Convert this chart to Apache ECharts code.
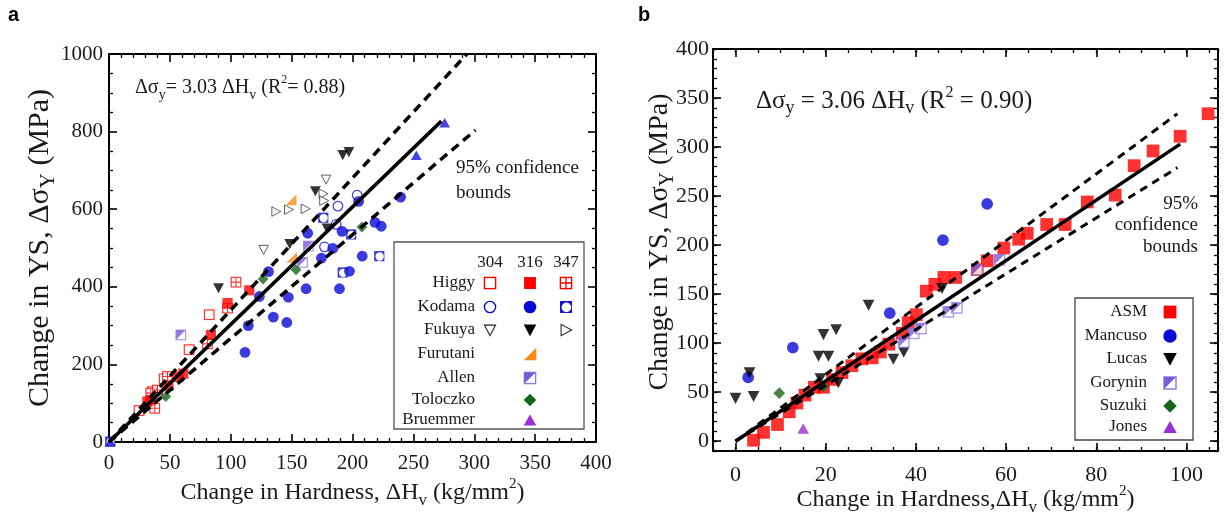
<!DOCTYPE html>
<html>
<head>
<meta charset="utf-8">
<script src="https://cdn.jsdelivr.net/npm/echarts@6/dist/echarts.min.js"></script>
<style>
html,body{margin:0;padding:0;background:#fff}
#chart{width:1225px;height:521px}
</style>
</head>
<body>
<div id="chart"></div>
<script>
// ---------- Panel a: irradiated austenitic stainless steels (ΔHv, Δσy) ----------
const higgy304 = [[24.7,81],[35.7,130],[45.3,163],[65.8,238],[82.3,328]];
const higgy316 = [[31.5,104],[34,108],[48.8,145],[57,168],[61,176],[83.7,276],[97.4,358],[115.2,391]];
const higgy347 = [[37.6,87],[34.3,126],[39.8,134],[48,169],[80.9,253],[97.4,345],[104.3,412]];
const kodama304 = [[188,608],[203.8,636],[177,503],[186.6,561]];
const kodama316 = [[111.7,231],[114.4,300],[123.5,375],[131,439],[135,322],[146,308],[147.3,373],
  [161.9,395],[189.3,395],[174.5,474],[183.8,499],[163.2,538],[197.5,440],[205,620],[239.5,631],
  [191.4,543],[218.5,566],[223.6,556],[208,479]];
const kodama347 = [[1,1],[176,578],[198.9,535],[222,479],[192,437]];
const fukuya304 = [[178.3,677],[127,496]];
const fukuya316 = [[90,397],[148.5,511],[169.5,647],[179,551],[192,740],[197,748]];
const fukuya347 = [[137.2,594],[147.6,599],[161.3,601],[176,640],[176.5,622]];
const furutani316 = [[149.5,624],[150,476]];
const allen316 = [[59,276],[163.8,505],[159,463]];
const toloczko316 = [[46.6,117],[126.5,420],[153.6,444],[207.7,554]];
const bruemmer316 = [[1,1],[252.4,739],[275.7,823]];
const fitA = [[0,0],[273,827]];
const upperA = [[0,0],[294,1000]];
const lowerA = [[0,0],[301,804]];

// ---------- Panel b ----------
const asm = [[4,1],[6.2,9],[9.3,17],[11.9,30],[13.6,39],[15.4,47],[17.5,55],[19.5,55],[21.5,63],
  [23.6,70],[25.8,77],[28,84],[30.3,85],[32.1,91],[34,99],[37,110],[38.3,121],[40.1,129],[42.3,153],
  [44.2,160],[46.2,167],[48.8,167],[53.6,175],[55.8,184],[59.5,197],[62.8,206],[64.7,212],[69,221],
  [73.1,221],[78,244],[84.2,251],[88.4,281],[92.6,296],[98.6,311],[104.8,334]];
const mancuso = [[2.8,65],[12.7,95.5],[34.2,130.6],[46,205],[55.8,242]];
const lucas = [[0,44],[3.1,70],[4,46],[18.4,87],[20.6,87],[19.5,109],[22.3,114],[29.5,139],
  [18.8,64],[22.8,60],[35,84],[37.3,91],[45.8,156]];
const gorynin = [[37.3,101],[39.5,110],[41.1,115],[47.2,132],[49.1,136],[53.6,175],[58.5,185]];
const suzuki = [[9.7,49],[19.5,56]];
const jones = [[15,13]];
const fitB = [[0,0],[98.6,303]];
const upperB = [[0,0],[98,334]];
const lowerB = [[0,0],[98,279]];

// tick values
const xMajorB = [0,20,40,60,80,100];
const yMajorB = [0,50,100,150,200,250,300,350,400];

// legend rows
const legendARows = ['Higgy','Kodama','Fukuya','Furutani','Allen','Toloczko','Bruemmer'];
const legendAHeads = ['304','316','347'];
const legendBRows = ['ASM','Mancuso','Lucas','Gorynin','Suzuki','Jones'];

// ---------- marker glyphs ----------
function svg(inner){
  return 'data:image/svg+xml;charset=utf-8,' + encodeURIComponent(
    '<svg xmlns="http://www.w3.org/2000/svg" width="40" height="40" viewBox="0 0 20 20">' + inner + '</svg>');
}
const RED='#ff0000', BLUE='#0a0ad8', ORANGE='#ff8a1c', GREEN='#1a641a', VIOLET='#9a2fd8';
const PEDGE='#8f7ce6', PFILL='#7a5cd8';
const G = {
  sqOpen: c => svg(`<rect x="2" y="2" width="16" height="16" fill="#fff" stroke="${c}" stroke-width="2"/>`),
  sqFill: c => svg(`<rect x="1.5" y="1.5" width="17" height="17" fill="${c}"/>`),
  sqGrid: c => svg(`<rect x="2" y="2" width="16" height="16" fill="#fff" stroke="${c}" stroke-width="2"/><path d="M10 2V18M2 10H18" stroke="${c}" stroke-width="1.8"/>`),
  circOpen: c => svg(`<circle cx="10" cy="10" r="8" fill="#fff" stroke="${c}" stroke-width="2"/>`),
  circFill: c => svg(`<circle cx="10" cy="10" r="9" fill="${c}"/>`),
  sqCirc: c => svg(`<rect x="1.5" y="1.5" width="17" height="17" fill="${c}"/><circle cx="10.6" cy="10.6" r="6.9" fill="#fff"/>`),
  triDownOpen: c => svg(`<path d="M2 3H18L10 18Z" fill="#fff" stroke="${c}" stroke-width="1.5"/>`),
  triDownFill: c => svg(`<path d="M1 2H19L10 19Z" fill="${c}"/>`),
  triRightOpen: c => svg(`<path d="M3 2V18L18 10Z" fill="#fff" stroke="${c}" stroke-width="1.5"/>`),
  wedge: c => svg(`<path d="M1 19H19V1Z" fill="${c}"/>`),
  halfSq: (e,f) => svg(`<rect x="2" y="2" width="16" height="16" fill="#fff" stroke="${e}" stroke-width="2"/><path d="M2 2H18L2 18Z" fill="${f}"/>`),
  diamond: c => svg(`<path d="M10 1L19 10L10 19L1 10Z" fill="${c}"/>`),
  triUp: c => svg(`<path d="M10 2L19 18H1Z" fill="${c}"/>`)
};

const SERIF = '"Liberation Serif","Times New Roman",serif';
const INK = '#1a1a1a';

function pts(name, data, glyph, size, panel){
  return {
    type:'scatter', name, data,
    xAxisIndex: panel ? 2 : 0, yAxisIndex: panel ? 2 : 0,
    symbol: 'image://' + glyph, symbolSize: size,
    silent:true, z:3
  };
}
function line(data, dashed, panel, w){
  return {
    type:'line', data, xAxisIndex: panel ? 2 : 0, yAxisIndex: panel ? 2 : 0,
    showSymbol:false, symbol:'none', silent:true, z:5,
    lineStyle:{color:'#000', width:w, type: dashed ? (panel ? [8,6] : [9,6]) : 'solid', cap:'butt'}
  };
}

const rich = size => ({
  t:{fontFamily:SERIF, fontSize:size, color:INK, lineHeight:size+8},
  sub:{fontFamily:SERIF, fontSize:Math.round(size*0.7), color:INK, lineHeight:Math.round(size*0.7), verticalAlign:'bottom'},
  sup:{fontFamily:SERIF, fontSize:Math.round(size*0.62), color:INK, lineHeight:Math.round(size*0.62), verticalAlign:'top'}
});

const frameLine = {show:true, onZero:false, lineStyle:{color:'#000', width:2}};
function axisBase(extra){
  return Object.assign({
    type:'value', splitLine:{show:false}, axisLine:frameLine, nameMoveOverlap:false,
    axisLabel:{show:false}, axisTick:{inside:true, length:8, lineStyle:{color:'#000', width:1.6}}
  }, extra);
}
const plain = v => String(v);
const tickFont = (size, margin) => ({show:true, fontFamily:SERIF, fontSize:size, color:INK, margin, formatter:plain});
const minorA = n => ({show:true, splitNumber:n, length:4, lineStyle:{color:'#000', width:1.3}});
const noLine = {show:false, onZero:false};

const xAxes = [
  axisBase({gridIndex:0, position:'bottom', min:0, max:400, interval:50, minorTick:minorA(5),
    axisLabel:tickFont(21, 11),
    name:'{t|Change in Hardness, ΔH}{sub|v}{t| (kg/mm}{sup|2}{t|)}', nameLocation:'middle', nameGap:35,
    nameTextStyle:{rich:rich(24)}}),
  axisBase({gridIndex:0, position:'top', min:0, max:400, interval:50, minorTick:minorA(5)}),
  axisBase({gridIndex:1, position:'bottom', min:-5, max:107,
    axisTick:{inside:true, length:8, customValues:xMajorB, lineStyle:{color:'#000', width:1.6}},
    axisLabel:Object.assign(tickFont(22, 13), {customValues:xMajorB}),
    name:'{t|Change in Hardness,ΔH}{sub|v}{t| (kg/mm}{sup|2}{t|)}', nameLocation:'middle', nameGap:33,
    nameTextStyle:{rich:rich(24)}}),
  axisBase({gridIndex:1, position:'bottom', min:-5, max:107, interval:5, axisLine:noLine,
    axisTick:{inside:true, length:4, lineStyle:{color:'#000', width:1.3}}}),
  axisBase({gridIndex:1, position:'top', min:-5, max:107,
    axisTick:{inside:true, length:8, customValues:xMajorB, lineStyle:{color:'#000', width:1.6}}}),
  axisBase({gridIndex:1, position:'top', min:-5, max:107, interval:5, axisLine:noLine,
    axisTick:{inside:true, length:4, lineStyle:{color:'#000', width:1.3}}})
];
const yAxes = [
  axisBase({gridIndex:0, position:'left', min:0, max:1000, interval:200, minorTick:minorA(4),
    axisLabel:tickFont(21, 6),
    name:'{t|Change in YS, Δσ}{sub|Y}{t| (MPa)}', nameLocation:'middle', nameGap:50,
    nameTextStyle:{rich:rich(30)}}),
  axisBase({gridIndex:0, position:'right', min:0, max:1000, interval:200, minorTick:minorA(4)}),
  axisBase({gridIndex:1, position:'left', min:-10, max:400,
    axisTick:{inside:true, length:8, customValues:yMajorB, lineStyle:{color:'#000', width:1.6}},
    axisLabel:Object.assign(tickFont(22, 4), {customValues:yMajorB}),
    name:'{t|Change in YS, Δσ}{sub|Y}{t| (MPa)}', nameLocation:'middle', nameGap:35,
    nameTextStyle:{rich:rich(28), padding:[0,0,0,16]}}),
  axisBase({gridIndex:1, position:'left', min:-10, max:400, interval:10, axisLine:noLine,
    axisTick:{inside:true, length:4, lineStyle:{color:'#000', width:1.3}}}),
  axisBase({gridIndex:1, position:'right', min:-10, max:400,
    axisTick:{inside:true, length:8, customValues:yMajorB, lineStyle:{color:'#000', width:1.6}}}),
  axisBase({gridIndex:1, position:'right', min:-10, max:400, interval:10, axisLine:noLine,
    axisTick:{inside:true, length:4, lineStyle:{color:'#000', width:1.3}}})
];

const series = [
  pts('Higgy 304', higgy304, G.sqOpen(RED), 12, 0),
  pts('Higgy 347', higgy347, G.sqGrid(RED), 12, 0),
  pts('Higgy 316', higgy316, G.sqFill(RED), 12, 0),
  pts('Kodama 304', kodama304, G.circOpen(BLUE), 12, 0),
  pts('Kodama 347', kodama347, G.sqCirc(BLUE), 12, 0),
  pts('Kodama 316', kodama316, G.circFill(BLUE), 12, 0),
  pts('Fukuya 304', fukuya304, G.triDownOpen('#222'), 12, 0),
  pts('Fukuya 347', fukuya347, G.triRightOpen('#222'), 12, 0),
  pts('Fukuya 316', fukuya316, G.triDownFill('#000'), 12, 0),
  pts('Furutani 316', furutani316, G.wedge(ORANGE), 12, 0),
  pts('Allen 316', allen316, G.halfSq(PEDGE, PFILL), 12, 0),
  pts('Toloczko 316', toloczko316, G.diamond(GREEN), 12, 0),
  pts('Bruemmer 316', bruemmer316, G.triUp('#1414e0'), 12, 0),
  line(fitA, false, 0, 3.5), line(upperA, true, 0, 3.5), line(lowerA, true, 0, 3.5),

  pts('ASM', asm, G.sqFill(RED), 15, 1),
  pts('Mancuso', mancuso, G.circFill(BLUE), 13, 1),
  pts('Lucas', lucas, G.triDownFill('#000'), 13, 1),
  pts('Gorynin', gorynin, G.halfSq(PEDGE, PFILL), 13, 1),
  pts('Suzuki', suzuki, G.diamond(GREEN), 13, 1),
  pts('Jones', jones, G.triUp(VIOLET), 13, 1),
  line(fitB, false, 1, 3.5), line(upperB, true, 1, 3), line(lowerB, true, 1, 3)
];

// ---------- annotations and keys ----------
const graphic = [];
function txt(x, y, text, opts){
  graphic.push({type:'text', silent:true, z:20, style:Object.assign({
    x, y, text, fill:INK, font:'19px ' + SERIF, align:'left', verticalAlign:'middle'}, opts || {})});
}
function img(cx, cy, glyph, s){
  graphic.push({type:'image', silent:true, z:21, style:{image:glyph, x:cx - s/2, y:cy - s/2, width:s, height:s}});
}
txt(8, 15, 'a', {font:'bold 20px "Liberation Sans",Arial,sans-serif', fill:'#000'});
txt(638, 15, 'b', {font:'bold 20px "Liberation Sans",Arial,sans-serif', fill:'#000'});

txt(135, 88, '{t|Δσ}{sub|y}{t|= 3.03 ΔH}{sub|v}{t| (R}{sup|2}{t|= 0.88)}', {rich:rich(20)});
txt(456, 168, '95% confidence');
txt(456, 193, 'bounds');
txt(756, 101, '{t|Δσ}{sub|y}{t| = 3.06 ΔH}{sub|v}{t| (R}{sup|2}{t| = 0.90)}', {rich:rich(25)});
txt(1198, 204, '95%', {align:'right'});
txt(1198, 225, 'confidence', {align:'right'});
txt(1198, 247, 'bounds', {align:'right'});

// key, panel a
graphic.push({type:'rect', silent:true, z:19, shape:{x:394, y:242, width:190, height:187},
  style:{fill:'#fff', stroke:'#555', lineWidth:1.3}});
const colA = [490, 530, 566];
const rowA = [283, 307, 330, 354, 378, 400, 420];
legendAHeads.forEach((h, i) => txt(colA[i], 263, h, {align:'center', font:'17px ' + SERIF}));
legendARows.forEach((n, i) => txt(475, rowA[i], n, {align:'right', font:'17px ' + SERIF}));
const keyA = [
  [G.sqOpen(RED), G.sqFill(RED), G.sqGrid(RED)],
  [G.circOpen(BLUE), G.circFill(BLUE), G.sqCirc(BLUE)],
  [G.triDownOpen('#222'), G.triDownFill('#000'), G.triRightOpen('#222')],
  [null, G.wedge(ORANGE), null],
  [null, G.halfSq(PEDGE, PFILL), null],
  [null, G.diamond(GREEN), null],
  [null, G.triUp(VIOLET), null]
];
keyA.forEach((row, r) => row.forEach((g, c) => { if (g) img(colA[c], rowA[r], g, 14); }));

// key, panel b
graphic.push({type:'rect', silent:true, z:19, shape:{x:1075, y:298, width:118, height:142},
  style:{fill:'#fff', stroke:'#444', lineWidth:1.3}});
const rowB = [312, 336, 359, 383, 406, 427];
const keyB = [G.sqFill(RED), G.circFill(BLUE), G.triDownFill('#000'), G.halfSq(PEDGE, PFILL), G.diamond(GREEN), G.triUp(VIOLET)];
legendBRows.forEach((n, i) => {
  txt(1147, rowB[i], n, {align:'right', font:'17px ' + SERIF});
  img(1170, rowB[i], keyB[i], 15);
});

const chart = echarts.init(document.getElementById('chart'));
chart.setOption({
  animation:false,
  backgroundColor:'#fff',
  grid:[
    {left:109, top:54, width:487, height:388},
    {left:713, top:49, width:505, height:408}
  ],
  xAxis:xAxes,
  yAxis:yAxes,
  series,
  graphic
});
</script>
</body>
</html>
